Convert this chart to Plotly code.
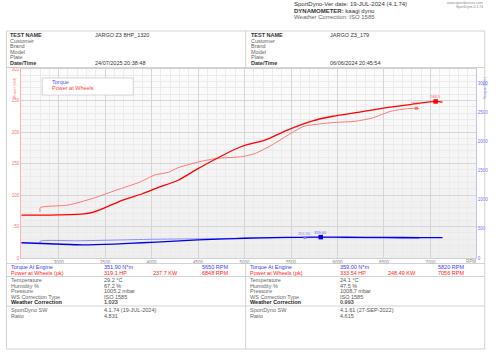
import plotly.graph_objects as go

# ---------------- data ----------------
rpm_pwr_a = [2800, 2802, 3100, 3375, 3625, 3865, 4040, 4180, 4280, 4520, 4700, 4980, 5115, 5290, 5500, 5640, 5950, 6190, 6370, 6575, 6750, 6848, 6880]
kw_pwr_a = [73, 80, 84, 95, 108, 120, 132, 136, 143, 153, 158, 161, 166, 179, 198, 209, 215, 217, 222, 233, 237, 237.7, 237.2]

rpm_pwr_b = [2600, 2800, 3000, 3270, 3375, 3500, 3690, 3900, 4075, 4280, 4490, 4700, 4905, 5010, 5220, 5460, 5740, 5950, 6250, 6545, 6800, 7056, 7130]
kw_pwr_b = [68, 68, 68.5, 70, 73, 80, 92, 102, 112, 123, 141, 158, 173, 179, 187, 203, 218, 225, 232, 239, 244, 248.49, 247.5]

rpm_trq_a = [2800, 2802, 3200, 3600, 4000, 4500, 5000, 5400, 5650, 6000, 6400, 6880]
nm_trq_a = [252, 290, 296, 308, 322, 330, 340, 348, 351.9, 349, 344, 336]

rpm_trq_b = [2600, 2900, 3260, 3600, 3900, 4200, 4500, 4800, 5000, 5300, 5600, 5820, 6100, 6500, 6900, 7130]
nm_trq_b = [262, 245, 226, 240, 262, 285, 310, 328, 340, 350, 356, 359, 357, 354, 351, 350]

peak_pwr_a = (6848, 237.7, "237.7")
peak_pwr_b = (7056, 248.49, "248.5")
peak_trq_a = (5650, 351.9, "351.90")
peak_trq_b = (5820, 359.0, "359.00")

x_ticks = [3000, 3500, 4000, 4500, 5000, 5500, 6000, 6500, 7000]

header_lines = ["SportDyno-Ver date: 19-JUL-2024 (4.1.74)", "<b>DYNAMOMETER:</b> kaagi dyno", "Weather Correction: ISO 1585"]
info_labels = ["<b>TEST NAME</b>", "Customer", "Brand", "Model", "Plate", "<b>Date/Time</b>"]
info_left = ["JARGO Z3 8HP_1320", "", "", "", "", "24/07/2025 20:38:48"]
info_right = ["JARGO Z3_179", "", "", "", "", "06/06/2024 20:45:54"]

res_labels = ["Torque At Engine", "Power at Wheels (pk)"]
res_left = [["351.90 N*m", "", "5650 RPM"], ["319.1 HP", "237.7 KW", "6848 RPM"]]
res_right = [["359.00 N*m", "", "5820 RPM"], ["333.54 HP", "248.49 KW", "7056 RPM"]]

cond_labels = ["Temperature", "Humidity %", "Pressure", "WS Correction Type", "<b>Weather Correction</b>"]
cond_left = ["29.2 °C", "67.2 %", "1005.2 mbar", "ISO 1585", "<b>1.023</b>"]
cond_right = ["24.1 °C", "47.5 %", "1008.7 mbar", "ISO 1585", "<b>0.993</b>"]

sw_labels = ["SportDyno SW", "Ratio"]
sw_left = ["4.1.74 (19-JUL-2024)", "4.831"]
sw_right = ["4.1.61 (27-SEP-2022)", "4.615"]

# ---------------- layout helpers ----------------
W, H = 500, 353
L, R, T, B = 18, 488, 69, 258
FONT = "Liberation Sans, Arial, sans-serif"

def px(x):
    return (x - L) / (R - L)

def py(y):
    return (B - y) / (B - T)

RED = "#ff0000"
RED_T = "#ff6a6a"
BLUE = "#0000e6"
BLUE_T = "#7f7fff"

fig = go.Figure()

fig.add_trace(go.Scatter(x=rpm_pwr_a, y=kw_pwr_a, mode="lines", line=dict(color=RED_T, width=0.9, shape="spline", smoothing=0.6), showlegend=False))
fig.add_trace(go.Scatter(x=rpm_pwr_b, y=kw_pwr_b, mode="lines", line=dict(color=RED, width=1.3, shape="spline", smoothing=0.6), showlegend=False))
fig.add_trace(go.Scatter(x=rpm_trq_a, y=nm_trq_a, mode="lines", yaxis="y2", line=dict(color=BLUE_T, width=0.9, shape="spline", smoothing=0.6), showlegend=False))
fig.add_trace(go.Scatter(x=rpm_trq_b, y=nm_trq_b, mode="lines", yaxis="y2", line=dict(color=BLUE, width=1.3, shape="spline", smoothing=0.6), showlegend=False))

# peak markers
fig.add_trace(go.Scatter(x=[peak_pwr_a[0]], y=[peak_pwr_a[1]], mode="markers", marker=dict(symbol="square", size=3, color=RED_T), showlegend=False))
fig.add_trace(go.Scatter(x=[peak_pwr_b[0]], y=[peak_pwr_b[1]], mode="markers", marker=dict(symbol="square", size=4.5, color=RED), showlegend=False))
fig.add_trace(go.Scatter(x=[peak_trq_a[0]], y=[peak_trq_a[1]], mode="markers", yaxis="y2", marker=dict(symbol="square", size=3, color=BLUE_T), showlegend=False))
fig.add_trace(go.Scatter(x=[peak_trq_b[0]], y=[peak_trq_b[1]], mode="markers", yaxis="y2", marker=dict(symbol="square", size=4.5, color=BLUE), showlegend=False))

ann = []
shapes = []

def txt(x, y, s, size=5.5, color="#444", anchor="left", **kw):
    ann.append(dict(x=px(x), y=py(y), xref="paper", yref="paper", text=s, showarrow=False,
                    xanchor=anchor, yanchor="middle", font=dict(family=FONT, size=size, color=color), **kw))

def hline(x0, x1, y, color="#c8c8c8", w=0.8):
    shapes.append(dict(type="line", xref="paper", yref="paper", x0=px(x0), x1=px(x1), y0=py(y), y1=py(y),
                       line=dict(color=color, width=w)))

def vline(x, y0, y1, color="#c8c8c8", w=0.8):
    shapes.append(dict(type="line", xref="paper", yref="paper", x0=px(x), x1=px(x), y0=py(y0), y1=py(y1),
                       line=dict(color=color, width=w)))

# peak labels
for (xv, yv, s), yref, col in [(peak_pwr_a, "y", RED_T), (peak_pwr_b, "y", "#ff6060"),
                               (peak_trq_a, "y2", BLUE_T), (peak_trq_b, "y2", "#6060ff")]:
    ann.append(dict(x=xv, y=yv, xref="x", yref=yref, text=s, showarrow=False, yshift=4.5,
                    font=dict(family=FONT, size=4, color=col)))

# background gradient in plot area
n = 24
for i in range(n):
    g = int(252 - 14 * i / (n - 1))
    shapes.append(dict(type="rect", xref="paper", yref="paper", x0=0, x1=1,
                       y0=1 - (i + 1) / n, y1=1 - i / n, layer="below", line=dict(width=0),
                       fillcolor=f"rgb({g},{g},{g})"))

# header
txt(298, 4, header_lines[0], size=6, color="#333")
txt(298, 11, header_lines[1], size=6, color="#333")
txt(298, 17.5, header_lines[2], size=6, color="#666")
txt(497, 2.5, "www.sportdevices.com", size=3.5, color="#888", anchor="right")
txt(497, 6.5, "SportDyno 4.1.74", size=3.5, color="#888", anchor="right")

# info table
hline(3, 497, 31)
hline(3, 497, 67.5)
vline(250, 31, 67.5)
vline(3, 31, 349)
vline(497, 31, 349)
for i, lab in enumerate(info_labels):
    yy = 35 + i * 5.6
    txt(5, yy, lab, color="#333" if "<b>" in lab else "#666")
    txt(253, yy, lab, color="#333" if "<b>" in lab else "#666")
    txt(92, yy, info_left[i], color="#333")
    txt(335, yy, info_right[i], color="#333")

# results table
hline(3, 497, 263.5)
vline(250, 263.5, 349)
res_colors = ["#3a3aff", "#ff2020"]
for i, lab in enumerate(res_labels):
    yy = 267 + i * 5.6
    c = res_colors[i]
    txt(6, yy, lab, color=c)
    txt(252, yy, lab, color=c)
    for j, xx in enumerate([102, 152, 203]):
        txt(xx, yy, res_left[i][j], color=c)
    for j, xx in enumerate([345, 395, 447]):
        txt(xx, yy, res_right[i][j], color=c)
hline(3, 497, 276.5)
for i, lab in enumerate(cond_labels):
    yy = 280 + i * 5.5
    col = "#222" if "<b>" in lab else "#666"
    txt(6, yy, lab, color=col)
    txt(252, yy, lab, color=col)
    txt(102, yy, cond_left[i], color="#555")
    txt(345, yy, cond_right[i], color="#555")
hline(3, 497, 306)
for i, lab in enumerate(sw_labels):
    yy = 310 + i * 5.5
    txt(6, yy, lab, color="#666")
    txt(252, yy, lab, color="#666")
    txt(102, yy, sw_left[i], color="#555")
    txt(345, yy, sw_right[i], color="#555")
hline(3, 497, 349)

# legend box
shapes.append(dict(type="rect", xref="paper", yref="paper", x0=px(40), x1=px(134), y0=py(95), y1=py(78),
                   fillcolor="white", line=dict(color="#cccccc", width=0.8)))
txt(48, 81.5, "Torque", size=5.5, color="#5050ff")
txt(48, 87.5, "Power at Wheels", size=5.5, color="#ff4040")

# axis titles & RPM
ann.append(dict(x=px(11), y=py(88), xref="paper", yref="paper", text="Power [kW]", showarrow=False, textangle=-90,
                font=dict(family=FONT, size=4, color="#ff8080"), xanchor="center", yanchor="middle"))
ann.append(dict(x=px(496.5), y=py(88), xref="paper", yref="paper", text="Torque [Nm]", showarrow=False, textangle=-90,
                font=dict(family=FONT, size=4, color="#8080ff"), xanchor="center", yanchor="middle"))
txt(483, 261.5, "RPM", size=4.5, color="#888", anchor="center")

fig.update_layout(
    width=W, height=H, margin=dict(l=L, r=W - R, t=T, b=H - B),
    paper_bgcolor="white", plot_bgcolor="rgba(0,0,0,0)",
    font=dict(family=FONT),
    showlegend=False,
    xaxis=dict(range=[2595, 7490], tickvals=x_ticks, ticks="", showgrid=True, gridcolor="#d6d6d6", gridwidth=0.8,
               minor=dict(dtick=100, showgrid=True, gridcolor="#ebebeb", gridwidth=0.6),
               tickfont=dict(family=FONT, size=4.5, color="#888"), zeroline=False, showline=True, linecolor="#d0d0d0",
               linewidth=0.8, mirror=True, ticklabelstandoff=0),
    yaxis=dict(range=[0, 300], dtick=50, showgrid=True, gridcolor="#d6d6d6", gridwidth=0.8,
               minor=dict(dtick=10, showgrid=True, gridcolor="#ebebeb", gridwidth=0.6),
               tickfont=dict(family=FONT, size=4.5, color="#ff7070"), zeroline=False, showline=True,
               linecolor="#ffb0b0", linewidth=0.8, ticks="", ticklabelstandoff=0),
    yaxis2=dict(range=[0, 3250], dtick=500, overlaying="y", side="right", showgrid=False,
                tickfont=dict(family=FONT, size=4.5, color="#7070ff"), zeroline=False, showline=True,
                linecolor="#c0c0ff", linewidth=0.8, ticks="", ticklabelstandoff=0),
    annotations=ann, shapes=shapes,
)

fig.write_html("out.html")
